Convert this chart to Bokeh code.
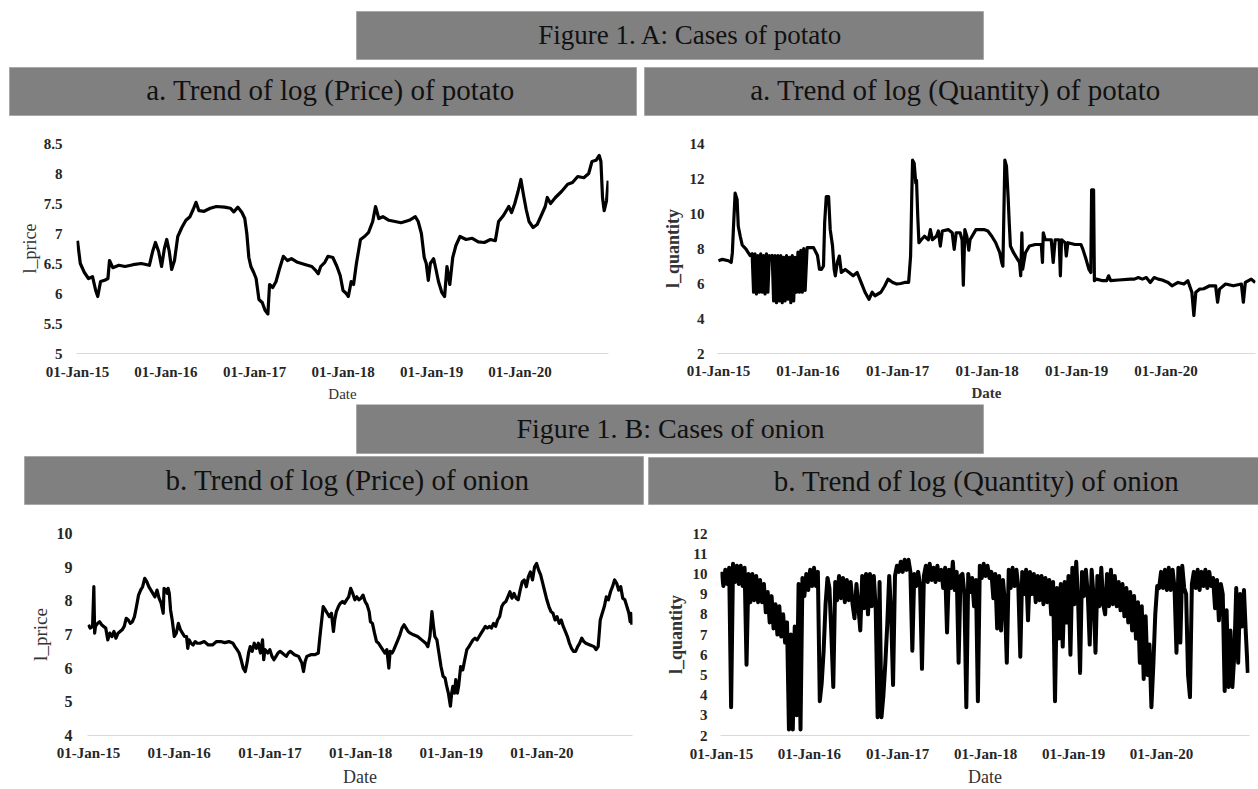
import numpy as np
from bokeh.plotting import figure
from bokeh.layouts import column, row
from bokeh.models import Range1d, FixedTicker, DatetimeTickFormatter, NumeralTickFormatter
from bokeh.core.properties import value
from bokeh.embed import file_html
from bokeh.resources import INLINE

# ---------------- data ----------------
tick_years = [2015, 2016, 2017, 2018, 2019, 2020]

# potato log price (x = years since 01-Jan-2015)
potato_price_t = [0.000,0.032,0.078,0.124,0.170,0.206,0.229,0.261,0.307,0.344,
    0.362,0.399,0.468,0.537,0.628,0.720,0.812,0.849,0.881,0.917,
    0.950,0.982,1.009,1.037,1.064,1.096,1.133,1.179,1.225,1.271,
    1.307,1.339,1.372,1.431,1.500,1.569,1.661,1.729,1.766,1.812,
    1.858,1.890,1.913,1.936,1.959,1.991,2.018,2.050,2.087,2.119,
    2.151,2.170,2.206,2.243,2.280,2.326,2.372,2.417,2.486,2.578,
    2.647,2.693,2.720,2.748,2.794,2.830,2.885,2.931,2.968,3.000,
    3.037,3.060,3.092,3.119,3.151,3.197,3.243,3.289,3.335,3.367,
    3.404,3.450,3.518,3.587,3.656,3.748,3.817,3.849,3.885,3.917,
    3.940,3.963,3.986,4.023,4.050,4.078,4.115,4.147,4.174,4.206,
    4.239,4.275,4.321,4.390,4.459,4.528,4.596,4.665,4.720,4.757,
    4.812,4.872,4.904,4.940,4.977,5.009,5.041,5.069,5.101,5.147,
    5.193,5.239,5.284,5.307,5.344,5.399,5.468,5.537,5.592,5.651,
    5.720,5.775,5.812,5.858,5.894,5.913,5.931,5.950,5.977,5.995]
potato_price = [6.88,6.50,6.35,6.25,6.28,6.05,5.95,6.20,6.22,6.25,
    6.55,6.43,6.47,6.45,6.48,6.50,6.47,6.70,6.85,6.70,
    6.45,6.75,6.90,6.70,6.40,6.55,6.95,7.10,7.22,7.28,
    7.40,7.52,7.38,7.37,7.42,7.45,7.44,7.42,7.36,7.44,
    7.35,7.25,7.00,6.60,6.45,6.35,6.25,5.90,5.85,5.72,
    5.66,6.15,6.10,6.20,6.40,6.62,6.55,6.58,6.52,6.48,
    6.45,6.38,6.33,6.45,6.52,6.62,6.60,6.45,6.30,6.05,
    6.00,5.95,6.20,6.15,6.50,6.90,6.95,7.02,7.20,7.45,
    7.25,7.28,7.22,7.20,7.18,7.22,7.28,7.20,7.00,6.60,
    6.50,6.22,6.50,6.58,6.40,6.20,6.02,5.95,6.45,6.15,
    6.60,6.80,6.95,6.90,6.92,6.86,6.85,6.90,6.88,7.20,
    7.30,7.45,7.35,7.50,7.70,7.90,7.62,7.40,7.20,7.10,
    7.15,7.30,7.45,7.60,7.50,7.60,7.70,7.82,7.85,7.95,
    7.93,8.00,8.20,8.22,8.30,8.20,7.60,7.38,7.55,7.88]

# potato log quantity
potato_qty_t = [0.000,0.044,0.111,0.142,0.155,0.168,0.186,0.208,0.221,0.243,
    0.265,0.310,0.332,0.354,
    0.376,0.392,0.408,0.424,0.440,0.456,0.472,0.488,0.504,0.520,
    0.536,0.552,0.568,0.584,0.600,0.616,0.632,0.648,0.664,0.680,
    0.696,0.712,0.728,0.744,0.760,0.776,0.792,0.808,0.824,0.840,
    0.856,0.872,0.888,0.904,0.920,0.936,0.952,0.968,
    0.990,1.062,1.106,1.128,1.150,1.173,1.186,1.204,1.230,1.248,
    1.274,1.292,1.305,1.327,1.350,1.372,1.416,1.460,1.504,1.549,
    1.593,1.637,1.681,1.717,1.748,1.814,1.858,1.894,1.947,1.991,
    2.035,2.080,2.124,2.146,2.159,2.168,2.186,2.204,2.212,2.226,
    2.239,2.265,2.301,2.345,2.367,2.389,2.434,2.456,2.478,2.500,
    2.566,2.611,2.633,2.655,2.699,2.721,2.735,2.752,2.774,2.796,
    2.810,2.876,2.965,3.009,3.053,3.097,3.142,3.164,3.177,3.186,
    3.199,3.217,3.235,3.248,3.261,3.296,3.341,3.363,3.376,3.389,
    3.398,3.429,3.473,3.540,3.606,3.619,3.628,3.650,3.717,3.739,
    3.761,3.805,3.819,3.832,3.872,3.885,3.903,3.982,4.049,4.071,
    4.106,4.137,4.159,4.168,4.190,4.199,4.221,4.292,4.336,4.358,
    4.381,4.469,4.602,4.646,4.690,4.735,4.779,4.823,4.867,4.912,
    4.956,5.022,5.066,5.133,5.199,5.243,5.288,5.310,5.332,5.376,
    5.420,5.487,5.553,5.575,5.597,5.664,5.752,5.841,5.863,5.885,
    5.951,5.996]
potato_qty = [7.30,7.38,7.30,7.20,7.75,9.27,11.16,10.80,9.27,8.70,
    8.20,7.95,7.76,7.60,
    7.7,5.5,7.7,5.4,7.6,5.5,7.7,5.5,7.6,5.4,
    7.7,5.5,7.6,7.5,7.6,5.0,7.6,4.9,7.6,5.0,
    7.6,4.9,7.5,5.0,7.6,5.1,7.5,4.9,7.6,5.0,
    7.5,5.5,7.8,5.5,7.9,5.5,8.0,5.6,
    8.05,8.05,7.60,6.82,6.80,7.00,9.46,10.97,10.97,9.09,
    8.14,6.82,6.44,7.20,7.57,6.63,6.80,6.63,6.44,6.63,
    6.06,5.50,5.10,5.50,5.30,5.50,5.87,6.25,6.06,5.97,
    6.00,6.06,6.06,7.57,10.97,13.05,12.87,11.73,11.90,9.84,
    8.33,8.50,8.70,8.50,9.08,8.50,8.70,9.00,8.14,9.00,
    9.08,8.90,7.95,8.90,8.90,8.50,5.90,9.08,8.70,7.90,
    8.50,9.08,9.08,9.00,8.70,8.33,7.76,7.20,6.99,9.46,
    13.05,12.70,10.97,9.46,8.14,7.76,7.38,7.20,6.44,8.90,
    6.82,7.76,8.14,8.23,8.23,7.20,8.90,8.50,8.50,7.20,
    8.50,8.50,6.44,8.50,8.33,7.57,8.33,8.23,8.23,7.95,
    7.38,6.82,6.63,11.35,11.35,6.16,6.25,6.16,6.16,6.44,
    6.16,6.20,6.25,6.25,6.34,6.25,6.34,6.06,6.34,6.25,
    6.20,6.06,5.87,6.06,5.97,6.16,5.50,4.17,5.50,5.68,
    5.70,5.87,5.87,4.93,5.68,5.97,5.87,5.97,4.93,6.06,
    6.25,6.06]

# onion log price
onion_price_t = [0.000,0.018,0.045,0.059,0.068,0.077,0.100,0.122,0.145,0.167,
    0.190,0.213,0.235,0.258,0.281,0.303,0.326,0.348,0.371,0.394,
    0.416,0.439,0.462,0.484,0.507,0.529,0.552,0.575,0.597,0.620,
    0.643,0.665,0.688,0.710,0.733,0.756,0.778,0.801,0.824,0.833,
    0.855,0.869,0.878,0.891,0.905,0.923,0.946,0.968,0.991,1.014,
    1.036,1.059,1.081,1.095,1.109,1.131,1.154,1.176,1.199,1.231,
    1.276,1.321,1.367,1.412,1.457,1.502,1.548,1.593,1.615,1.638,
    1.661,1.683,1.706,1.729,1.751,1.765,1.783,1.805,1.828,1.851,
    1.873,1.896,1.919,1.932,1.946,1.977,2.000,2.023,2.045,2.068,
    2.090,2.113,2.136,2.181,2.204,2.226,2.271,2.317,2.353,2.371,
    2.389,2.407,2.452,2.498,2.534,2.552,2.588,2.611,2.633,2.656,
    2.679,2.701,2.715,2.733,2.756,2.778,2.801,2.824,2.846,2.869,
    2.891,2.914,2.937,2.959,2.982,3.005,3.027,3.050,3.072,3.095,
    3.109,3.131,3.154,3.176,3.199,3.222,3.244,3.267,3.290,3.312,
    3.326,3.348,3.367,3.389,3.412,3.434,3.457,3.480,3.502,3.525,
    3.548,3.584,3.629,3.674,3.719,3.742,3.765,3.787,3.801,3.819,
    3.842,3.864,3.887,3.910,3.932,3.946,3.968,3.991,4.005,4.018,
    4.036,4.050,4.068,4.081,4.104,4.127,4.149,4.172,4.195,4.217,
    4.240,4.262,4.285,4.308,4.330,4.353,4.376,4.398,4.421,4.443,
    4.466,4.489,4.511,4.534,4.557,4.579,4.602,4.624,4.647,4.670,
    4.692,4.715,4.738,4.760,4.783,4.805,4.828,4.851,4.873,4.896,
    4.919,4.941,4.964,4.986,5.009,5.032,5.054,5.077,5.100,5.122,
    5.145,5.167,5.190,5.213,5.235,5.258,5.281,5.303,5.326,5.348,
    5.371,5.394,5.416,5.439,5.462,5.484,5.529,5.575,5.597,5.620,
    5.643,5.665,5.688,5.710,5.733,5.756,5.778,5.801,5.824,5.846,
    5.869,5.891,5.914,5.937,5.959,5.973,5.982,5.991]
onion_price = [7.29,7.19,7.24,8.42,7.04,7.24,7.33,7.38,7.29,7.24,
    7.19,6.84,7.04,6.94,7.09,6.89,7.04,7.09,7.14,7.24,
    7.48,7.43,7.33,7.38,7.53,7.83,8.17,8.32,8.42,8.67,
    8.57,8.42,8.32,8.22,8.12,8.32,8.08,7.93,7.63,8.37,
    8.32,8.22,8.37,8.22,7.73,7.43,6.94,7.04,7.33,7.14,
    7.04,6.94,6.94,6.59,6.84,6.74,6.69,6.79,6.74,6.74,
    6.79,6.69,6.69,6.79,6.79,6.76,6.79,6.74,6.64,6.55,
    6.45,6.25,6.00,5.90,6.20,6.45,6.64,6.50,6.74,6.59,
    6.74,6.45,6.84,6.25,6.55,6.45,6.55,6.35,6.25,6.35,
    6.45,6.50,6.45,6.35,6.45,6.50,6.40,6.35,6.15,5.90,
    6.20,6.35,6.40,6.40,6.45,6.94,7.83,7.73,7.63,7.53,
    7.63,7.09,7.43,7.68,7.83,7.93,7.98,7.93,8.03,8.12,
    8.37,8.22,8.03,8.12,8.03,8.08,8.17,7.98,7.88,7.68,
    7.38,7.33,7.04,6.79,6.74,6.64,6.55,6.45,6.55,6.00,
    6.50,6.45,6.55,6.69,6.84,6.99,7.19,7.29,7.19,7.09,
    7.04,6.99,6.94,6.84,6.74,6.64,6.94,7.68,7.33,6.94,
    6.84,6.45,6.05,5.76,5.71,5.51,5.26,4.87,5.26,5.46,
    5.26,5.66,5.26,5.46,6.05,5.95,6.25,6.55,6.64,6.74,
    6.84,6.89,6.84,6.94,7.04,7.14,7.24,7.19,7.24,7.19,
    7.33,7.24,7.43,7.53,7.83,7.93,7.98,8.12,8.27,8.08,
    8.22,8.08,8.03,8.32,8.57,8.62,8.42,8.72,8.86,8.62,
    9.01,9.11,8.91,8.77,8.52,8.27,8.03,7.83,7.68,7.63,
    7.43,7.53,7.33,7.43,7.24,7.09,6.94,6.74,6.59,6.50,
    6.50,6.64,6.74,6.89,6.79,6.74,6.69,6.64,6.55,6.64,
    7.43,7.63,7.83,8.12,8.03,8.27,8.42,8.62,8.52,8.32,
    8.42,8.08,8.03,7.83,7.63,7.38,7.63,7.29]

# onion log quantity, one reading every 8 days from 01-Jan-2015
onion_qty_step_days = 8
onion_qty = [10.1,9.4,10.2,9.5,10.3,3.4,10.5,9.6,10.4,9.5,
    10.4,9.4,10.3,5.5,10.0,8.6,10.0,8.7,9.9,8.6,
    9.7,8.6,9.5,8.1,9.1,7.6,8.9,7.3,8.5,7.0,
    8.4,6.9,8.0,6.6,7.6,2.3,7.0,2.3,7.4,3.0,
    9.5,2.3,9.8,8.9,10.0,9.2,10.2,9.4,10.3,9.4,
    10.1,3.7,4.6,6.2,8.5,9.8,9.3,7.0,4.4,9.6,
    8.7,9.9,8.8,9.8,8.6,9.7,8.7,9.6,8.5,7.8,
    9.5,8.4,7.2,9.9,8.3,10.0,8.0,10.0,8.4,9.9,
    8.3,2.9,9.6,2.9,4.0,5.6,7.5,9.9,8.0,4.5,
    9.9,10.4,10.1,10.6,10.1,10.7,10.2,10.7,10.1,6.2,
    10.0,9.4,10.1,9.5,5.3,9.9,10.4,9.6,10.5,9.7,
    10.3,9.6,10.4,9.7,10.2,9.3,10.3,7.1,10.2,9.3,
    10.6,9.2,10.1,5.6,9.9,10.0,9.0,3.4,10.0,9.1,
    9.8,8.4,9.7,3.7,10.4,9.8,10.5,9.9,10.4,9.8,
    10.1,8.8,10.0,7.3,9.9,7.2,9.7,8.6,5.6,10.2,
    9.3,10.3,9.4,10.2,9.3,5.9,10.1,9.0,10.2,7.7,
    10.1,9.0,10.0,8.6,9.9,8.7,9.9,8.5,9.8,8.6,
    9.7,8.0,9.6,3.7,9.3,6.8,9.5,6.4,9.6,7.6,
    9.9,6.0,10.3,8.5,10.6,8.6,5.1,10.1,8.9,10.2,
    9.0,6.5,10.2,8.9,6.1,9.9,8.4,10.3,8.5,8.0,
    10.0,8.4,10.2,8.5,9.9,8.4,9.6,8.2,9.5,7.9,
    9.3,7.6,9.1,7.2,8.9,6.8,8.6,5.6,8.4,4.8,
    7.9,5.0,6.5,3.4,5.5,8.0,9.4,9.3,10.1,9.3,
    10.2,9.2,10.3,9.2,10.2,9.3,6.1,10.3,6.6,10.4,
    9.3,9.0,5.0,3.9,9.5,10.1,9.3,10.2,9.2,10.1,
    9.4,10.2,9.3,10.1,9.4,9.8,8.3,9.7,7.7,9.5,
    9.0,4.2,8.2,4.4,7.2,4.4,6.0,9.3,5.6,9.0,
    7.4,9.2,7.0,5.1]

header_a_texts = ["Figure 1. A: Cases of potato",
                  "a. Trend of log (Price) of potato",
                  "a. Trend of log (Quantity) of potato"]
header_b_texts = ["Figure 1. B: Cases of onion",
                  "b. Trend of log (Price) of onion",
                  "b. Trend of log (Quantity) of onion"]

# ---------------- helpers ----------------
MS_PER_YEAR = 365.25 * 24 * 3600 * 1000.0
START_MS = float(np.datetime64("2015-01-01", "ms").astype(np.int64))


def years_to_ms(t):
    return START_MS + np.asarray(t, dtype=float) * MS_PER_YEAR


tick_ms = [float(np.datetime64(f"{y}-01-01", "ms").astype(np.int64)) for y in tick_years]
X0 = float(np.datetime64("2014-12-28", "ms").astype(np.int64))
X1 = float(np.datetime64("2020-12-31", "ms").astype(np.int64))

FONT = "Liberation Serif"
fmt = "%d-%b-%y"


def chart(x_ms, y, yr, yticks, yfmt, ylabel, w, h, borders,
          ylab_size, ylab_style, date_size, date_style, ytick_size, ystand, ylabstand,
          xstand, datestand, lw):
    L, R, T, B = borders
    p = figure(width=w, height=h, x_axis_type="datetime",
               x_range=Range1d(X0, X1), y_range=Range1d(*yr),
               toolbar_location=None, output_backend="svg", title=None,
               min_border_left=L, min_border_right=R, min_border_top=T, min_border_bottom=B)
    p.outline_line_color = None
    p.background_fill_color = "white"
    p.border_fill_color = "white"
    p.xgrid.visible = False
    p.ygrid.visible = False
    p.line(x_ms, y, line_color="black", line_width=lw, line_join="round")

    xa = p.xaxis[0]
    xa.ticker = FixedTicker(ticks=tick_ms)
    xa.formatter = DatetimeTickFormatter(microseconds=fmt, milliseconds=fmt, seconds=fmt,
                                         minsec=fmt, minutes=fmt, hourmin=fmt, hours=fmt,
                                         days=fmt, months=fmt, years=fmt)
    xa.axis_line_color = "#d9d9d9"
    xa.axis_line_width = 1
    xa.major_tick_line_color = None
    xa.minor_tick_line_color = None
    xa.major_tick_out = 0
    xa.major_tick_in = 0
    xa.major_label_text_font = FONT
    xa.major_label_text_font_style = "bold"
    xa.major_label_text_font_size = "15px"
    xa.major_label_text_color = "#262626"
    xa.major_label_standoff = xstand
    xa.axis_label = "Date"
    xa.axis_label_text_font = FONT
    xa.axis_label_text_font_style = date_style
    xa.axis_label_text_font_size = date_size
    xa.axis_label_text_color = "#333333"
    xa.axis_label_standoff = datestand

    ya = p.yaxis[0]
    ya.ticker = FixedTicker(ticks=yticks)
    ya.formatter = NumeralTickFormatter(format=yfmt)
    ya.axis_line_color = None
    ya.major_tick_line_color = None
    ya.minor_tick_line_color = None
    ya.major_tick_out = 0
    ya.major_tick_in = 0
    ya.major_label_text_font = FONT
    ya.major_label_text_font_style = "bold"
    ya.major_label_text_font_size = ytick_size
    ya.major_label_text_color = "#262626"
    ya.major_label_standoff = ystand
    ya.axis_label = ylabel
    ya.axis_label_text_font = FONT
    ya.axis_label_text_font_style = ylab_style
    ya.axis_label_text_font_size = ylab_size
    ya.axis_label_text_color = "#333333"
    ya.axis_label_standoff = ylabstand
    return p


def header(height, ytop, boxes, texts, tx, tb, sizes):
    p = figure(width=1258, height=height, x_range=Range1d(0, 1258),
               y_range=Range1d(ytop + height, ytop),
               toolbar_location=None, output_backend="svg", title=None,
               min_border=0, x_axis_location=None, y_axis_location=None)
    p.outline_line_color = None
    p.xgrid.visible = False
    p.ygrid.visible = False
    p.border_fill_color = "white"
    l, r, t, b = zip(*boxes)
    p.quad(left=list(l), right=list(r), top=list(t), bottom=list(b),
           fill_color="#808080", line_color="#a8a8a8", line_width=1)
    for x, yb, s, txt in zip(tx, tb, sizes, texts):
        p.text(x=[x], y=[yb], text=[txt], text_font=value(FONT), text_font_size=value(s),
               text_align="center", text_baseline="alphabetic", text_color="#111111")
    return p


fA = header(116, 0,
            [(356, 983, 11, 59), (9, 636, 67, 115), (644, 1258, 67, 115)],
            header_a_texts, [690, 330, 955], [34, 89, 89], ["27px", "29px", "29px"])

f1 = chart(years_to_ms(potato_price_t), potato_price, (5, 8.5),
           [5, 5.5, 6, 6.5, 7, 7.5, 8, 8.5], "0.[0]", "l_price",
           640, 288, (76, 32, 22, 47), "18px", "normal", "15px", "normal", "15px", 14, 1,
           10, 3, 3.2)

f2 = chart(years_to_ms(potato_qty_t), potato_qty, (2, 14),
           [2, 4, 6, 8, 10, 12, 14], "0", "l_quantity",
           618, 288, (77, 3, 27, 49), "18px", "bold", "15px", "bold", "15px", 13, 4,
           9, 3, 3.2)

fB = header(103, 404,
            [(356, 983, 404, 453), (24, 643, 456, 504), (648, 1258, 457, 504)],
            header_b_texts, [670, 347, 976], [428, 479, 480], ["28px", "29px", "29px"])

onion_qty_ms = START_MS + np.arange(len(onion_qty)) * onion_qty_step_days * 86400000.0

f3 = chart(years_to_ms(onion_price_t), onion_price, (4, 10),
           [4, 5, 6, 7, 8, 9, 10], "0", "l_price",
           645, 282, (87, 13, 26, 54), "19px", "normal", "18px", "normal", "16px", 15, 3,
           9, 3, 3.2)

f4 = chart(onion_qty_ms, onion_qty, (2, 12),
           list(range(2, 13)), "0", "l_quantity",
           613, 282, (75, 9, 26, 47), "18px", "bold", "18px", "normal", "15px", 13, 4,
           10, 2, 4)

layout = column(fA, row(f1, f2), fB, row(f3, f4))

open("out.html", "w").write(file_html(layout, INLINE))
